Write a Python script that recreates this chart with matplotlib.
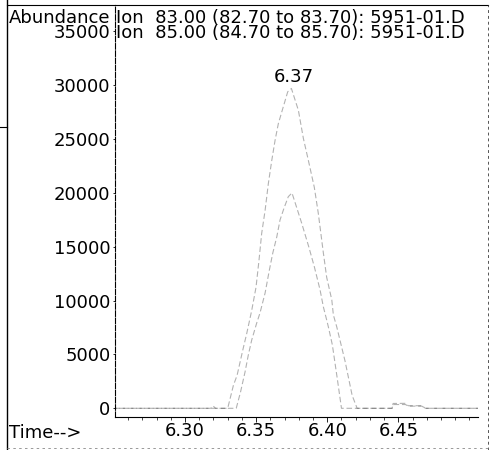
import matplotlib
matplotlib.use('Agg')
import matplotlib.pyplot as plt
from matplotlib.lines import Line2D
from matplotlib.ticker import MultipleLocator
import numpy as np

plt.rcParams['font.family'] = ['DejaVu Sans']
FS = 13

# Ion 83 trace (time in min, abundance)
time_83 = [6.2504, 6.3180, 6.3197, 6.3215, 6.3300, 6.3340, 6.3366, 6.3406,
           6.3434, 6.3469, 6.3499, 6.3520, 6.3539, 6.3563, 6.3586, 6.3610,
           6.3633, 6.3656, 6.3680, 6.3722, 6.3748, 6.3797, 6.3832, 6.3867,
           6.3909, 6.3937, 6.3973, 6.3996, 6.4032, 6.4043, 6.4067, 6.4125,
           6.4175, 6.4210, 6.4456, 6.4463, 6.4550, 6.4570, 6.4665, 6.4690,
           6.5060]
abund_83 = [0, 0, 220, 0, 0, 2130, 3060, 5400,
            6960, 9100, 11230, 13740, 16250, 18380, 20890, 23030,
            24880, 26430, 27510, 29390, 29700, 27670, 25070, 23030,
            20520, 18110, 14390, 12160, 10060, 8670, 7550, 4390,
            1200, 0, 0, 450, 460, 240, 240, 0,
            0]

# Ion 85 trace
time_85 = [6.2504, 6.3360, 6.3390, 6.3422, 6.3445, 6.3469, 6.3504, 6.3527,
           6.3563, 6.3593, 6.3617, 6.3645, 6.3668, 6.3696, 6.3726, 6.3752,
           6.3820, 6.3870, 6.3909, 6.3949, 6.3973, 6.3996, 6.4008, 6.4036,
           6.4070, 6.4100, 6.4456, 6.4463, 6.4550, 6.4570, 6.4665, 6.4690,
           6.5060]
abund_85 = [0, 0, 1500, 3380, 4950, 6350, 7920, 8850,
            10710, 12840, 14420, 15910, 17490, 18590, 19650, 20000,
            17200, 15000, 13150, 11020, 9400, 8200, 7550, 5880,
            2800, 0, 0, 350, 350, 200, 200, 0,
            0]

y_ticks = [0, 5000, 10000, 15000, 20000, 25000, 30000, 35000]
x_ticks = [6.30, 6.35, 6.40, 6.45]
ion_labels = ['Ion  83.00 (82.70 to 83.70): 5951-01.D',
              'Ion  85.00 (84.70 to 85.70): 5951-01.D']
peak_label = '6.37'

W, H = 497, 450
fig = plt.figure(figsize=(W / 100, H / 100), dpi=100, facecolor='white')
ax = fig.add_axes([114.5 / W, 1 - 417.3 / H, (478 - 114.5) / W, (417.3 - 5) / H])

ax.plot(time_83, abund_83, color='black', alpha=0.3, lw=0.8,
        linestyle=(0, (5, 2.5)))
ax.plot(time_85, abund_85, color='black', alpha=0.3, lw=0.8,
        linestyle=(3, (5, 2.5)))

ax.set_xlim(6.2504, 6.5060)
ax.set_ylim(-836, 37450)

ax.set_yticks(y_ticks)
ax.set_yticklabels([str(v) for v in y_ticks], fontsize=FS)
ax.set_xticks(x_ticks)
ax.set_xticklabels(['%.2f' % v for v in x_ticks], fontsize=FS)
ax.xaxis.set_minor_locator(MultipleLocator(0.01))
ax.tick_params(axis='x', which='major', direction='out', length=3.6, width=0.6, pad=0)
ax.tick_params(axis='x', which='minor', direction='out', length=2.2, width=0.5)
ax.tick_params(axis='y', direction='out', length=1.5, width=0.6, pad=1.5)

for s in ['top', 'right']:
    ax.spines[s].set_visible(False)
ax.spines['left'].set_linestyle((0, (5, 1.5)))
ax.spines['left'].set_linewidth(0.8)
ax.spines['bottom'].set_linewidth(0.8)

# peak label above the Ion 83 apex
i_max = int(np.argmax(abund_83))
ax.annotate(peak_label, xy=(time_83[i_max], abund_83[i_max]),
            xytext=(2, 2), textcoords='offset points', ha='center', va='bottom',
            fontsize=FS)

# header text
fig.text(9 / W, 1 - 23 / H, 'Abundance', fontsize=FS, va='baseline', ha='left')
fig.text(116 / W, 1 - 23 / H, ion_labels[0], fontsize=FS, va='baseline', ha='left')
fig.text(116 / W, 1 - 38 / H, ion_labels[1], fontsize=FS, va='baseline', ha='left')
fig.text(9 / W, 1 - 438 / H, 'Time-->', fontsize=FS, va='baseline', ha='left')

# page frame from the printout
fig.add_artist(Line2D([7 / W, 7 / W], [0, 1], color='black', lw=1.0))
fig.add_artist(Line2D([7 / W, 488 / W], [1 - 5 / H, 1 - 5 / H], color='black', lw=0.8))
fig.add_artist(Line2D([488 / W, 488 / W], [0, 1 - 5 / H], color='#555555', lw=0.7,
                      linestyle=(0, (3, 3))))
fig.add_artist(Line2D([7 / W, 488 / W], [1 - 448 / H, 1 - 448 / H], color='#888888',
                      lw=0.6, linestyle=(0, (3, 4))))
fig.add_artist(Line2D([0, 7 / W], [1 - 127 / H, 1 - 127 / H], color='black', lw=0.8))

fig.savefig('out.png', dpi=100)
